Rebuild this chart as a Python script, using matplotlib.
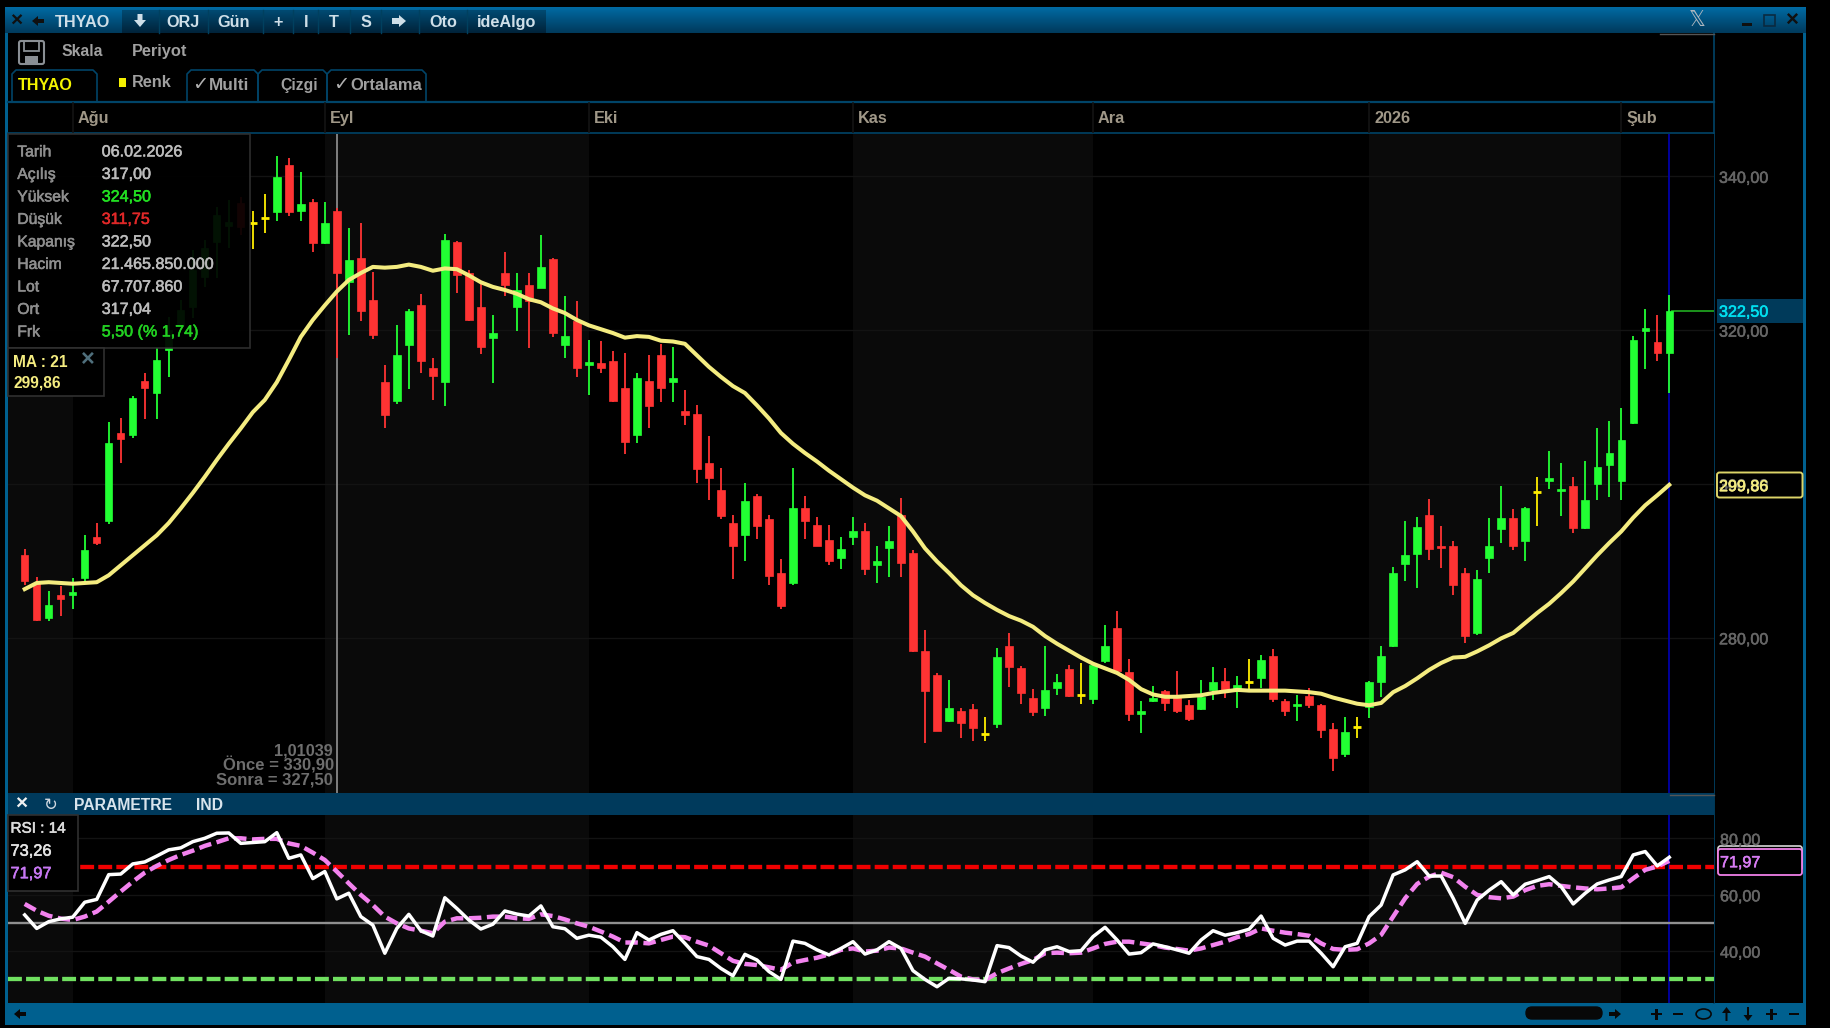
import numpy as np
import matplotlib
matplotlib.use("Agg")
import matplotlib.pyplot as plt
import matplotlib.patheffects as pe
from matplotlib.patches import Rectangle, FancyBboxPatch, Polygon, Ellipse

plt.rcParams['font.family'] = ['Liberation Sans', 'DejaVu Sans']
plt.rcParams['lines.scale_dashes'] = False

opens = [
290.7,287.1,282.5,285.5,285.6,287.8,293.1,295.2,306.6,306.3,
313.4,311.8,317.4,320.7,323.0,326.9,331.5,333.5,336.5,333.9,
334.6,335.3,341.4,335.5,336.7,331.3,335.5,326.3,329.4,323.9,
313.2,310.7,318.1,323.2,315.1,313.2,331.5,327.4,323.0,318.9,
327.4,323.0,325.9,325.5,329.2,318.1,321.1,315.5,315.7,315.9,
312.4,306.3,313.4,316.7,313.2,309.5,309.1,302.7,299.2,294.9,
293.3,298.4,295.4,288.4,287.1,296.9,294.6,292.7,290.4,293.1,
293.9,289.4,291.7,295.9,291.0,278.3,275.1,269.1,270.4,270.7,
267.4,268.7,278.9,276.1,272.2,270.8,273.5,275.9,272.5,272.0,
276.9,281.2,275.5,270.1,271.7,273.0,272.5,271.2,270.7,273.2,
274.3,273.0,274.2,274.8,277.6,271.7,271.1,272.4,271.2,268.1,
264.9,268.4,271.0,274.2,278.9,289.6,290.9,296.0,291.7,291.9,
288.4,280.6,290.4,294.1,295.6,292.6,298.9,300.4,299.0,299.7,
294.2,300.0,302.4,300.4,307.9,319.9,318.4,317.0]
closes = [
287.3,282.3,284.3,285.0,285.7,291.4,292.3,305.3,305.8,311.1,
312.4,316.1,320.0,322.6,327.8,330.7,335.0,334.0,333.4,333.9,
334.6,339.9,335.3,336.4,331.3,333.9,327.4,329.1,322.4,319.4,
308.9,316.7,322.4,316.0,314.0,331.7,327.2,321.3,317.8,319.6,
325.9,325.2,323.7,328.2,319.6,319.2,315.0,315.7,315.0,310.8,
305.4,313.7,310.1,312.4,313.8,308.9,301.9,300.7,295.8,291.9,
297.7,294.5,288.0,284.1,296.9,295.1,291.9,290.0,291.5,293.9,
288.9,289.9,292.5,289.7,278.2,273.1,267.9,270.8,268.9,268.3,
267.4,277.5,276.2,272.8,270.3,273.2,274.2,272.4,272.5,276.4,
278.9,275.7,270.1,270.3,272.2,271.5,270.5,269.4,272.3,274.2,
273.2,273.8,274.2,277.1,272.0,270.5,271.2,271.2,268.0,264.4,
267.7,268.4,274.2,277.6,288.4,290.7,294.4,291.5,291.6,286.8,
280.2,287.6,291.9,295.6,291.9,296.9,298.9,300.8,299.1,294.3,
297.9,302.2,304.0,305.7,318.7,320.3,317.0,322.5]
highs = [
291.5,287.9,286.0,286.7,287.7,293.3,294.9,308.0,308.5,311.4,
314.4,317.7,321.7,323.9,330.4,331.7,336.0,336.9,337.3,335.5,
337.7,342.6,342.4,340.6,337.0,336.7,335.8,333.2,333.9,327.5,
315.4,320.6,322.7,324.7,316.4,332.5,331.6,327.8,326.1,321.9,
330.2,327.4,327.4,332.4,329.4,324.4,323.7,318.7,318.5,317.2,
317.0,314.4,316.7,318.2,317.8,312.2,310.2,306.2,302.0,295.9,
300.1,298.7,295.9,290.2,302.1,298.4,295.7,294.7,293.1,295.7,
294.9,291.9,294.5,298.2,291.4,281.0,275.4,274.5,270.9,271.4,
269.7,278.7,280.6,276.3,273.3,278.9,275.2,276.4,276.7,276.4,
281.7,283.4,277.2,271.7,273.7,273.2,275.7,271.9,274.5,276.2,
276.0,275.0,277.2,277.7,278.5,272.0,272.5,273.5,271.4,268.9,
269.7,269.7,274.3,278.9,289.2,295.2,295.7,298.0,294.5,292.5,
289.0,288.8,295.5,299.7,296.7,297.0,300.9,304.2,302.7,300.9,
302.9,307.2,308.2,309.9,319.2,322.7,321.9,324.5]
lows = [
286.8,282.2,282.1,282.8,283.7,287.4,292.0,294.8,302.7,305.9,
308.4,308.4,313.9,320.0,321.6,325.6,326.7,330.7,332.3,330.5,
332.6,334.2,334.8,334.2,330.2,331.2,316.4,319.3,321.1,318.8,
307.3,310.4,312.3,314.4,310.9,310.1,324.8,321.1,316.9,313.1,
324.4,319.9,317.6,325.4,319.1,316.4,313.9,311.5,314.4,310.6,
303.9,305.3,307.3,310.6,310.6,307.6,300.1,297.9,295.4,287.6,
289.9,292.8,286.8,283.7,286.8,292.8,291.9,289.4,288.9,292.0,
288.1,287.1,287.9,287.9,278.1,266.3,267.8,269.0,266.9,266.6,
266.6,268.3,273.6,271.4,269.8,269.8,272.5,272.3,271.4,271.4,
276.7,275.6,269.1,267.6,271.6,270.4,270.2,269.1,270.6,271.9,
272.1,270.8,273.2,273.4,271.6,269.8,269.1,270.9,267.0,262.6,
264.5,267.0,269.6,272.3,278.8,287.3,286.4,290.1,289.1,285.5,
279.3,280.3,288.4,292.3,291.4,289.9,294.5,299.3,295.8,293.6,
294.1,297.9,298.3,297.9,307.8,314.9,315.9,311.75]
ma21 = [
286.3,287.1,287.2,287.1,287.0,287.1,287.2,288.1,289.4,290.7,
292.0,293.3,294.9,296.8,298.8,300.9,303.1,305.2,307.2,309.3,
310.9,313.2,316.1,319.1,321.3,323.2,325.0,326.5,327.4,328.2,
328.1,328.2,328.5,328.2,327.7,328.0,327.9,327.1,326.2,325.6,
325.2,324.7,324.0,323.6,322.8,322.2,321.3,320.6,320.1,319.6,
319.0,319.2,319.1,318.6,318.5,318.2,316.7,315.2,313.9,312.7,
311.8,310.2,308.5,306.6,305.2,304.0,302.9,301.7,300.6,299.5,
298.5,297.8,296.8,295.8,293.8,291.6,289.9,288.4,286.8,285.5,
284.5,283.6,282.8,282.2,281.4,280.2,279.2,278.3,277.4,276.6,
276.0,275.4,274.5,273.3,272.6,272.3,272.3,272.4,272.5,272.8,
273.0,273.2,273.1,273.1,273.1,273.1,273.0,272.9,272.7,272.2,
271.8,271.4,271.2,271.5,272.9,273.7,274.7,275.8,276.7,277.4,
277.5,278.2,279.0,279.9,280.6,281.9,283.2,284.4,285.8,287.3,
289.0,290.7,292.3,293.8,295.6,297.2,298.5,299.86]
rsi = [
52.8,48.0,50.4,51.4,52.0,57.3,58.3,67.1,67.3,70.9,
71.6,73.7,75.9,76.6,78.8,80.0,81.8,81.9,78.2,78.5,
78.8,82.0,72.9,74.1,65.7,68.2,58.5,60.5,52.2,49.2,
39.2,48.0,53.0,47.2,45.3,58.9,55.1,51.0,47.8,49.5,
54.2,53.1,52.4,56.0,48.6,47.9,44.5,45.6,44.9,41.5,
37.0,46.5,43.9,45.9,47.2,42.7,38.0,37.0,33.8,31.2,
38.8,36.8,32.7,29.9,43.5,42.7,40.4,38.6,40.9,43.3,
38.9,40.4,43.3,40.9,33.0,29.9,27.3,30.3,30.1,29.7,
29.1,41.9,41.2,38.2,36.0,40.4,41.5,39.8,40.1,45.1,
48.4,43.9,38.9,39.4,42.5,41.5,40.4,39.2,43.9,47.2,
45.6,46.5,47.7,52.4,44.5,42.1,43.5,43.5,39.2,34.4,
41.5,42.7,52.2,56.3,67.0,68.8,71.7,66.6,66.6,58.7,
49.8,58.1,61.6,64.6,59.9,63.7,65.0,66.4,62.8,56.7,
60.5,63.8,65.2,66.4,74.1,75.3,70.2,73.26]
rsi_ma = [
56.7,54.3,52.5,51.5,51.0,52.2,54.0,57.5,61.1,64.6,
67.8,70.2,72.3,74.1,75.6,77.3,78.6,80.0,80.0,79.6,
79.8,79.8,78.2,77.3,74.9,72.3,68.2,64.0,59.9,56.3,
52.2,49.8,48.0,47.2,46.3,50.4,51.6,51.6,51.8,52.2,
52.2,51.6,51.4,53.0,52.4,51.2,49.8,48.6,46.9,45.1,
43.0,43.0,42.7,43.9,45.1,44.9,43.3,41.9,39.2,36.5,
35.4,35.0,34.2,33.3,35.9,36.8,37.6,38.8,40.4,40.9,
39.8,40.1,41.2,40.9,39.4,38.0,35.6,33.3,30.9,29.9,
29.7,32.1,33.8,35.4,36.8,39.2,39.4,39.2,39.4,40.9,
42.5,43.3,43.3,42.7,42.1,41.2,40.7,40.1,40.9,42.1,
43.3,44.9,46.0,48.0,47.2,46.5,46.0,45.4,42.7,40.7,
40.4,40.6,42.7,45.7,52.2,58.7,63.8,66.4,67.8,66.2,
62.8,59.9,59.1,58.7,59.3,61.6,63.1,63.7,63.1,62.6,
62.2,61.9,62.2,62.6,65.8,68.8,70.0,71.97]

month_labels = ['Ağu', 'Eyl', 'Eki', 'Kas', 'Ara', '2026', 'Şub']
month_starts = [4, 25, 47, 69, 89, 112, 133]
price_ticks = [340, 320, 300, 280]
rsi_ticks = [80, 60, 40]
rsi_levels = [69.7, 50, 30]
info_labels = ['Tarih', 'Açılış', 'Yüksek', 'Düşük', 'Kapanış', 'Hacim', 'Lot', 'Ort', 'Frk']
info_values = ['06.02.2026', '317,00', '324,50', '311,75', '322,50', '21.465.850.000', '67.707.860', '317,04', '5,50 (% 1,74)']
toolbar = [('ORJ', 183), ('Gün', 234), ('+', 278), ('I', 306), ('T', 334), ('S', 366), ('Oto', 443), ('ideAlgo', 507)]

W, H = 1830, 1028
BLUE = '#00608f'
LINE = '#004468'
BAND = '#0a0a0a'
GRID = '#131313'
GREEN, RED, YEL = '#22ff33', '#ff3333', '#ffee00'

fig = plt.figure(figsize=(W / 100, H / 100), dpi=100, facecolor='black')

def pixel_axes(x0, y0, x1, y1, z):
    ax = fig.add_axes([x0 / W, 1 - y1 / H, (x1 - x0) / W, (y1 - y0) / H], zorder=z)
    return ax

bg = pixel_axes(0, 0, W, H, 0)
bg.set_facecolor('black')
top = pixel_axes(0, 0, W, H, 5)
top.patch.set_visible(False)
for a in (bg, top):
    a.set_xlim(0, W); a.set_ylim(H, 0); a.axis('off')

def grad(x0, x1, y0, y1, c0, c1):
    c0 = np.array(matplotlib.colors.to_rgb(c0)); c1 = np.array(matplotlib.colors.to_rgb(c1))
    t = np.linspace(0, 1, 32)[:, None, None]
    bg.imshow(c0 + (c1 - c0) * t, extent=(x0, x1, y1, y0), aspect='auto', zorder=1, interpolation='bilinear')

# frame
bg.add_patch(Rectangle((5, 7), 1801, 1018, fc=BLUE, ec='none', zorder=0))
bg.add_patch(Rectangle((8, 33), 1795, 970, fc='black', ec='none', zorder=0.5))
grad(5, 1806, 7, 33, '#006aa3', '#003a5c')
grad(122, 546, 10, 33, '#004a72', '#00233a')
bg.set_xlim(0, W); bg.set_ylim(H, 0)
for sx in [159, 208, 263, 293, 318, 350, 381, 419, 467]:
    bg.plot([sx, sx], [10, 33], color='#00405f', lw=1, zorder=2)
bg.plot([8, 1714], [102, 102], color=LINE, lw=1.6, zorder=2)
bg.plot([8, 1714], [133, 133], color=LINE, lw=1.2, zorder=2)
bg.plot([1714, 1714], [33, 1003], color=LINE, lw=1.2, zorder=2)
bg.plot([1660, 1714], [33.5, 33.5], color='#555555', lw=1, zorder=3)

x_of = lambda px: (px - 24.7) / 12.004
n = len(closes)
idx = np.arange(n)
bounds = [x_of(8)] + month_starts + [x_of(1714)]

def style_panel(ax, ticks):
    ax.set_xlim(x_of(8), x_of(1714))
    ax.set_facecolor('black')
    for k in range(0, len(bounds) - 1, 2):
        ax.axvspan(bounds[k], bounds[k + 1], color=BAND, lw=0, zorder=0)
    for t in ticks:
        ax.axhline(t, color=GRID, lw=1, zorder=0.5)
    ax.set_xticks([]); ax.set_yticks([])
    for s in ax.spines.values():
        s.set_visible(False)

# ------- price panel
ax = pixel_axes(8, 134, 1714, 793, 1)
ax.set_ylim(259.79, 345.48)
style_panel(ax, price_ticks)
o, c, h, l = map(np.array, (opens, closes, highs, lows))
cols = [YEL if a == b else (GREEN if b > a else RED) for a, b in zip(o, c)]
ax.vlines(idx, l, h, colors=cols, lw=1.3, zorder=2)
body_low = np.minimum(o, c)
body_h = np.maximum(np.abs(c - o), 0.3)
solid = o != c
ax.bar(idx[solid], body_h[solid], bottom=body_low[solid], width=0.62,
       color=[k for k, s in zip(cols, solid) if s], edgecolor=[k for k, s in zip(cols, solid) if s], lw=0.5, zorder=3)
doji = ~solid
ax.hlines(o[doji], idx[doji] - 0.33, idx[doji] + 0.33, colors=YEL, lw=2, zorder=3)
ax.axvline(x_of(336.7), color='#808080', lw=1.4, zorder=1.5)
ax.axvline(n - 1, color='#0000a8', lw=1.3, zorder=1.4)
ax.plot(idx, ma21, color='#f4ec80', lw=2.9, zorder=4, solid_joinstyle='round')
ax.plot([n - 1 + 0.2, x_of(1714)], [closes[-1], closes[-1]], color='#1f9f1f', lw=1.3, zorder=2)

# ------- RSI panel
ar = pixel_axes(8, 815, 1714, 1003, 1)
ar.set_ylim(21.53, 88.27)
style_panel(ar, rsi_ticks)
ar.axvline(n - 1, color='#0000a8', lw=1.3, zorder=1.4)
ar.axhline(rsi_levels[0], color='#f00000', lw=3.1, dashes=(10, 3), zorder=2)
ar.axhline(rsi_levels[1], color='#909090', lw=1.7, zorder=2)
ar.axhline(rsi_levels[2], color='#70e060', lw=3.1, dashes=(10, 3), zorder=2)
ar.plot(idx, rsi_ma, color='#f282ee', lw=3.2, dashes=(9, 4), zorder=3)
ar.plot(idx, rsi, color='#ffffff', lw=2.5, zorder=4)

# ------- chrome on top
def T(x, y, s, color='#b8b8b8', size=11.6, weight='normal', ha='left', va='center', **kw):
    t = top.text(x, y + 1.2, s, color=color, fontsize=size, fontweight=weight, ha=ha, va=va, **kw)
    if weight == 'normal':
        t.set_path_effects([pe.withStroke(linewidth=0.4, foreground=color)])

TB = '#cfdfe8'
T(16, 20, '×', color='#101010', size=15, weight='bold', ha='center')
top.add_patch(Polygon([(32, 21), (38, 16), (38, 19), (44, 19), (44, 23), (38, 23), (38, 26)], fc='#101010'))
T(55, 21, 'THYAO', color=TB, size=11.7, weight='bold')
top.add_patch(Polygon([(140, 27), (134, 20), (137.5, 20), (137.5, 14), (142.5, 14), (142.5, 20), (146, 20)], fc=TB))
for lab, xc in toolbar:
    T(xc, 21, lab, color=TB, size=11.7, weight='bold', ha='center')
top.add_patch(Polygon([(406, 21), (399, 15), (399, 18), (392, 18), (392, 24), (399, 24), (399, 27)], fc=TB))
top.text(1697, 20, '𝕏', color='#b0b8c0', fontsize=15, ha='center', va='center', family='DejaVu Sans')
top.add_patch(Rectangle((1742, 23), 10, 2.5, fc='#101010'))
top.add_patch(Rectangle((1764, 15), 11, 11, fc='none', ec='#0a2a40', lw=1.2))
T(1792, 19, '×', color='#101010', size=16, weight='bold', ha='center')

# floppy icon
top.add_patch(FancyBboxPatch((19, 41), 25, 23, boxstyle='round,pad=0,rounding_size=2', fc='none', ec='#8a8f94', lw=1.5))
top.add_patch(Rectangle((24, 41), 15, 10, fc='none', ec='#8a8f94', lw=1.3))
top.add_patch(Rectangle((25, 56), 13, 8, fc='#8a8f94', ec='none'))
TAB = '#a0a0a0'
T(62, 50, 'Skala', color=TAB, weight='bold', size=11.3)
T(132, 50, 'Periyot', color=TAB, weight='bold', size=11.8)

# tabs
for x0, x1 in [(12, 97), (187, 258), (258, 327), (327, 426)]:
    top.plot([x0, x0, x0 + 4, x1 - 4, x1, x1], [102, 74, 70, 70, 74, 102], color=LINE, lw=1.2)
T(18, 84, 'THYAO', color='#f4f400', weight='bold', size=11.6)
top.add_patch(Rectangle((119, 77.5), 7, 9, fc='#f4f000', ec='none'))
T(132, 81.5, 'Renk', color=TAB, weight='bold', size=11.7)
T(192, 84, '✓', color='#b0b0b0', size=14, weight='bold')
T(209, 84, 'Multi', color=TAB, weight='bold', size=12.4)
T(280, 84, 'Çizgi', color=TAB, weight='bold', size=11.3)
T(333, 84, '✓', color='#b0b0b0', size=14, weight='bold')
T(350, 84, 'Ortalama', color=TAB, weight='bold', size=11.9)

# month axis
for lab, i in zip(month_labels, month_starts):
    px = 24.7 + 12.004 * i
    top.plot([px, px], [103, 132], color='#141414', lw=1.2)
    T(px + 5, 117.5, lab, color='#a09888', weight='bold', size=11.7)

# price axis labels
for t in price_ticks:
    ypx = 134 + (345.48 - t) / (345.48 - 259.79) * 659
    T(1719, ypx + 1, f'{t},00', color='#666666')
top.add_patch(Rectangle((1716.5, 299), 86.5, 24, fc='#003a5a', ec='none'))
T(1719, 311, f'{closes[-1]:.2f}'.replace('.', ','), color='#00e0f0')
top.add_patch(FancyBboxPatch((1717, 472.5), 85.5, 25, boxstyle='round,pad=0,rounding_size=2.5', fc='black', ec='#dcd468', lw=1.4))
T(1719, 485.5, f'{ma21[-1]:.2f}'.replace('.', ','), color='#f4ec80')

# RSI axis labels
for t in rsi_ticks:
    ypx = 815 + (88.27 - t) / (88.27 - 21.53) * 188
    T(1720, ypx + 1, f'{t},00', color='#666666')
top.add_patch(FancyBboxPatch((1718, 846), 84, 24, boxstyle='round,pad=0,rounding_size=2.5', fc='black', ec='#d8d8d8', lw=1.2))
top.add_patch(FancyBboxPatch((1718, 849), 84, 26, boxstyle='round,pad=0,rounding_size=2.5', fc='black', ec='#f080e8', lw=1.3))
T(1720, 861.5, f'{rsi_ma[-1]:.2f}'.replace('.', ','), color='#d87cf4')

# info box
top.add_patch(Rectangle((8, 134), 242, 214, fc='black', ec='#303030', lw=1.2, alpha=0.93))
val_cols = ['#bcbcbc', '#bcbcbc', '#22e022', '#e02828', '#bcbcbc', '#bcbcbc', '#bcbcbc', '#bcbcbc', '#22d022']
for k, (lab, val) in enumerate(zip(info_labels, info_values)):
    yy = 150.7 + 22.5 * k
    T(17.3, yy, lab, color='#8e8e8e', size=11.3)
    T(101.7, yy, val, color=val_cols[k])

# MA box
top.add_patch(Rectangle((8, 348), 96, 48, fc='black', ec='#303030', lw=1.2))
T(13, 361, 'MA : 21', color='#f4ec80', weight='bold', size=11.2)
T(13, 382, f'{ma21[-1]:.2f}'.replace('.', ','), color='#f4ec80', weight='bold', size=11.2)
T(88, 358, '×', color='#4f6f7c', size=17, weight='bold', ha='center')

# before/after note
T(333, 749.5, '1,01039', color='#6e6e6e', ha='right', weight='bold', size=11.7)
T(334, 764, 'Önce = 330,90', color='#6e6e6e', ha='right', weight='bold', size=12)
T(333, 778.5, 'Sonra = 327,50', color='#6e6e6e', ha='right', weight='bold', size=12)

# RSI header
top.add_patch(Rectangle((8, 793), 1706, 22, fc='#003a5c', ec='none'))
T(21.7, 803, '×', color='#f0f0f0', size=15, weight='bold', ha='center')
top.text(50.6, 805, '↻', color='#d0d8e0', fontsize=12, ha='center', va='center', family='DejaVu Sans')
T(74, 804.5, 'PARAMETRE', color='#d8e4ec', size=11.3, weight='bold')
T(196, 804.5, 'IND', color='#d8e4ec', size=11.3, weight='bold')
top.plot([1670, 1714], [795, 795], color='#555555', lw=1)

# RSI box
top.add_patch(Rectangle((8, 815), 70, 76, fc='black', ec='#303030', lw=1.2))
T(10.5, 827.5, 'RSI : 14', color='#dcdcdc', size=11)
T(10.5, 850, f'{rsi[-1]:.2f}'.replace('.', ','), color='#e4e4e4', size=11.8)
T(10.5, 872.5, f'{rsi_ma[-1]:.2f}'.replace('.', ','), color='#c878f4', size=11.8)

# bottom bar icons
K = '#080808'
top.add_patch(Polygon([(14, 1014), (20, 1009), (20, 1012), (26, 1012), (26, 1016), (20, 1016), (20, 1019)], fc=K))
top.add_patch(FancyBboxPatch((1526, 1007), 76, 12, boxstyle='round,pad=0,rounding_size=6', fc=K, ec=K))
top.add_patch(Polygon([(1621, 1014), (1615, 1009), (1615, 1012), (1609, 1012), (1609, 1016), (1615, 1016), (1615, 1019)], fc=K))
for xp in (1656.5, 1771.6):
    top.add_patch(Rectangle((xp - 5.5, 1012.8), 11, 2.4, fc=K))
    top.add_patch(Rectangle((xp - 1.2, 1008.5), 2.4, 11, fc=K))
for xp in (1678, 1794):
    top.add_patch(Rectangle((xp - 5, 1012.8), 10, 2.2, fc=K))
top.add_patch(Ellipse((1703.6, 1014), 15, 10, fc='none', ec=K, lw=1.2))
top.add_patch(Polygon([(1726.5, 1007), (1731, 1013), (1727.5, 1013), (1727.5, 1021), (1725.5, 1021), (1725.5, 1013), (1722, 1013)], fc=K))
top.add_patch(Polygon([(1748, 1021), (1752.5, 1015), (1749, 1015), (1749, 1007), (1747, 1007), (1747, 1015), (1743.5, 1015)], fc=K))

fig.savefig('out.png', dpi=100, facecolor='black')
